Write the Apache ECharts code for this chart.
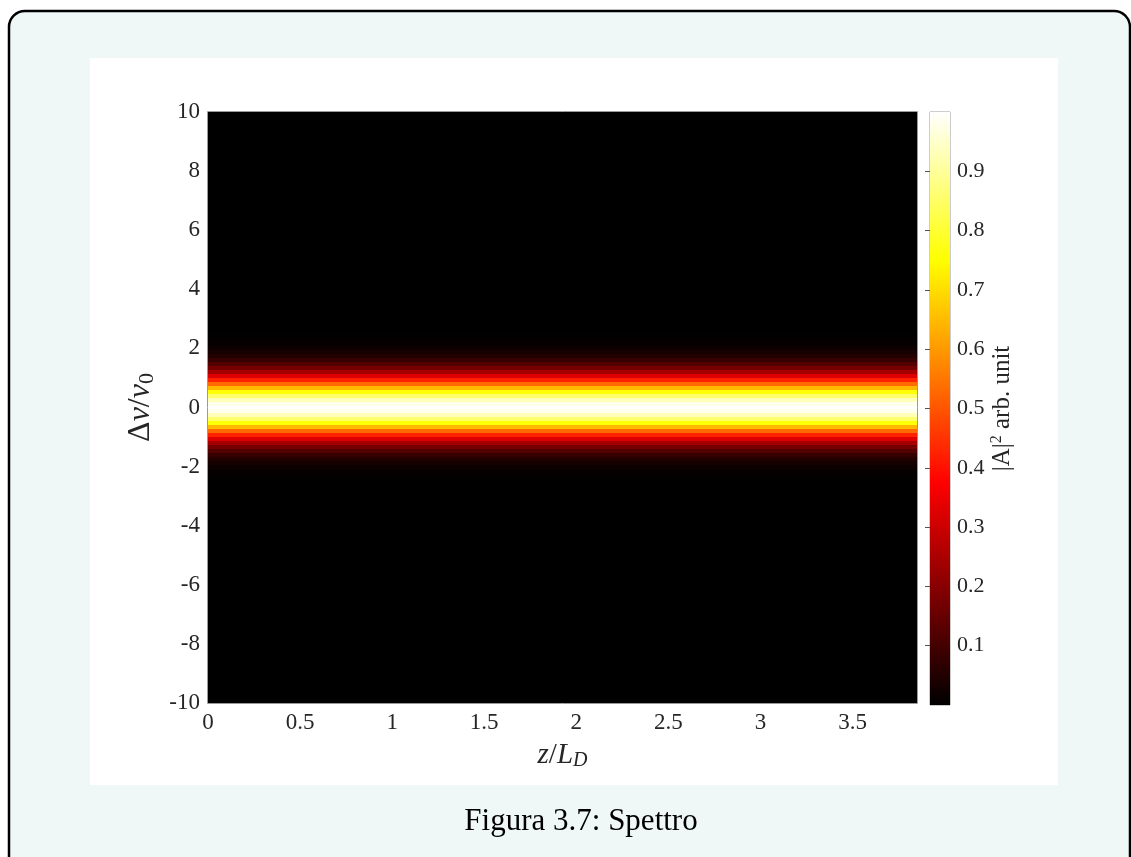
<!DOCTYPE html>
<html>
<head>
<meta charset="utf-8">
<title>Spettro</title>
<script src="https://cdn.jsdelivr.net/npm/echarts@6/dist/echarts.min.js"></script>
<style>
  html, body { margin: 0; padding: 0; background: #fff; }
  #main { width: 1131px; height: 857px; }
</style>
</head>
<body>
<div id="main"></div>
<script>
// z/L_D covered by the map (the spectrum is the same all along z)
var zRange = [0, 3.85];
// frequency grid rows (Δν/ν0) and their height
var nuStep = 0.135;
var nuRows = [-2.430, -2.295, -2.160, -2.025, -1.890, -1.755, -1.620, -1.485, -1.350, -1.215,
              -1.080, -0.945, -0.810, -0.675, -0.540, -0.405, -0.270, -0.135, 0,
              0.135, 0.270, 0.405, 0.540, 0.675, 0.810, 0.945, 1.080, 1.215, 1.350,
              1.485, 1.620, 1.755, 1.890, 2.025, 2.160, 2.295, 2.430];
// |A|^2, row by row
var intensity = [0.003, 0.006, 0.011, 0.019, 0.032, 0.052, 0.080, 0.120, 0.173, 0.242,
                 0.326, 0.424, 0.532, 0.645, 0.755, 0.854, 0.932, 0.983, 1.000,
                 0.983, 0.932, 0.854, 0.755, 0.645, 0.532, 0.424, 0.326, 0.242, 0.173,
                 0.120, 0.080, 0.052, 0.032, 0.019, 0.011, 0.006, 0.003];
// colorbar range
var cbarRange = [0, 1];
// 'hot' colormap at 0, 1/8, ... 1
var hotColors = ['#000000', '#550000', '#aa0000', '#ff0000', '#ff5500',
                 '#ffaa00', '#ffff00', '#ffff80', '#ffffff'];

var font = "'Liberation Serif', 'DejaVu Serif', serif";
var ink = '#262626';

var cells = nuRows.map(function (nu, i) {
    return [zRange[0], zRange[1], nu, intensity[i]];
});

var myChart = echarts.init(document.getElementById('main'));

function renderRow(params, api) {
    var p0 = api.coord([api.value(0), api.value(2) + nuStep / 2]);
    var p1 = api.coord([api.value(1), api.value(2) - nuStep / 2]);
    var y0 = Math.round(p0[1]), y1 = Math.round(p1[1]);
    return {
        type: 'rect',
        shape: { x: p0[0], y: y0, width: p1[0] - p0[0], height: y1 - y0 },
        style: { fill: api.visual('color') }
    };
}

function renderBar(params, api) {
    var p0 = api.coord([0, api.value(1)]);
    var p1 = api.coord([1, api.value(0)]);
    var stops = hotColors.map(function (c, i) {
        return { offset: i / (hotColors.length - 1), color: c };
    });
    return {
        type: 'rect',
        shape: { x: p0[0], y: p0[1], width: p1[0] - p0[0], height: p1[1] - p0[1] },
        style: { fill: new echarts.graphic.LinearGradient(0, 1, 0, 0, stops) }
    };
}

option = {
    animation: false,
    backgroundColor: '#ffffff',
    textStyle: { fontFamily: font },
    graphic: [
        {
            type: 'rect', z: -10, silent: true,
            shape: { x: 9, y: 11, width: 1121, height: 900, r: 16 },
            style: { fill: '#f0f8f7', stroke: '#000', lineWidth: 2.5 }
        },
        {
            type: 'rect', z: -9, silent: true,
            shape: { x: 90, y: 58, width: 968, height: 727 },
            style: { fill: '#ffffff' }
        },
        {
            // axes box, drawn above the map
            type: 'rect', z: 100, silent: true,
            shape: { x: 207.5, y: 111.5, width: 710, height: 592 },
            style: { fill: null, stroke: '#9a9a9a', lineWidth: 1 }
        },
        {
            type: 'text', silent: true, x: 581, y: 822,
            style: { text: 'Figura 3.7: Spettro', font: '31px ' + font, fill: '#000',
                     textAlign: 'center', textVerticalAlign: 'middle' }
        }
    ],
    grid: [
        { left: 208, top: 112, width: 709, height: 591, show: true,
          backgroundColor: '#000', borderWidth: 0 },
        { left: 930, top: 112, width: 20, height: 593, show: true,
          borderColor: '#9a9a9a', borderWidth: 1 }
    ],
    visualMap: {
        show: false,
        seriesIndex: 0,
        dimension: 3,
        min: cbarRange[0],
        max: cbarRange[1],
        inRange: { color: hotColors }
    },
    xAxis: [
        {
            gridIndex: 0, type: 'value', min: zRange[0], max: zRange[1], interval: 0.5,
            axisLine: { show: false }, axisTick: { show: false }, splitLine: { show: false },
            axisLabel: { color: ink, fontSize: 23, fontFamily: font, margin: 8, showMaxLabel: false },
            name: '{i|z}{a|/}{i|L}{s|D}', nameLocation: 'middle', nameGap: 36,
            nameTextStyle: {
                color: ink,
                rich: {
                    i: { fontSize: 29, fontStyle: 'italic', fontFamily: font, color: ink },
                    a: { fontSize: 29, fontFamily: font, color: ink },
                    s: { fontSize: 20, fontStyle: 'italic', fontFamily: font, color: ink, padding: [12, 0, 0, 0] }
                }
            }
        },
        {
            gridIndex: 1, type: 'value', min: 0, max: 1, show: false
        }
    ],
    yAxis: [
        {
            gridIndex: 0, type: 'value', min: -10, max: 10, interval: 2,
            axisLine: { show: false }, axisTick: { show: false }, splitLine: { show: false },
            axisLabel: { color: ink, fontSize: 23, fontFamily: font, margin: 8 },
            name: '{a|Δ}{i|ν}{a|/}{i|ν}{s|0}', nameLocation: 'middle', nameGap: 40, nameRotate: 90,
            nameTextStyle: {
                color: ink,
                rich: {
                    i: { fontSize: 32, fontStyle: 'italic', fontFamily: font, color: ink },
                    a: { fontSize: 32, fontFamily: font, color: ink },
                    s: { fontSize: 22, fontFamily: font, color: ink, padding: [13, 0, 0, 0] }
                }
            }
        },
        {
            gridIndex: 1, type: 'value', position: 'right', min: cbarRange[0], max: cbarRange[1], interval: 0.1,
            axisLine: { show: false }, splitLine: { show: false },
            axisTick: { show: true, inside: true, length: 5, lineStyle: { color: '#555' } },
            axisLabel: { color: ink, fontSize: 22, fontFamily: font, margin: 7,
                         showMinLabel: false, showMaxLabel: false },
            name: '{a||A|}{s|2}{a| arb. unit}', nameLocation: 'middle', nameGap: 39, nameRotate: 90,
            nameTextStyle: {
                color: ink,
                rich: {
                    a: { fontSize: 25, fontFamily: font, color: ink },
                    s: { fontSize: 16, fontFamily: font, color: ink, padding: [0, 0, 11, 0] }
                }
            }
        }
    ],
    series: [
        {
            name: 'spettro', type: 'custom', xAxisIndex: 0, yAxisIndex: 0,
            renderItem: renderRow, clip: true,
            encode: { x: [0, 1], y: 2 },
            data: cells
        },
        {
            name: 'colorbar', type: 'custom', xAxisIndex: 1, yAxisIndex: 1,
            renderItem: renderBar,
            encode: { y: [0, 1] },
            data: [cbarRange]
        }
    ]
};
// 使用刚指定的配置项和数据显示图表。
myChart.setOption(option);
</script>
</body>
</html>
